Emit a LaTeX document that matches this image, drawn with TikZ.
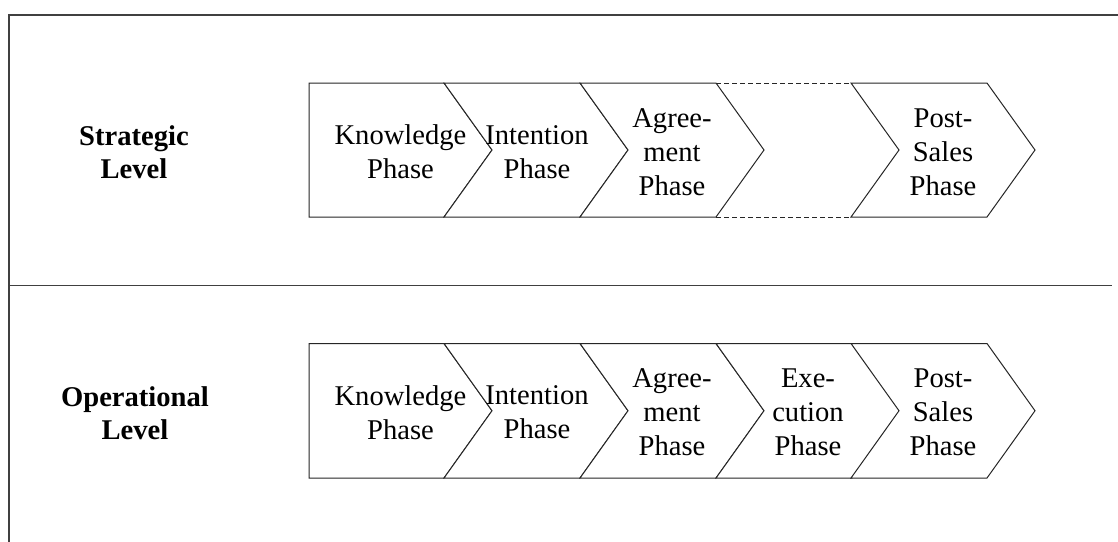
\documentclass[tikz,border=0pt]{standalone}
\usepackage{fontspec}
\setmainfont{Liberation Serif}
\newcommand\mychev[3]{\draw[chev] (#1,#2) -- (#1+136,#2) -- (#1+184,{(#2+#3)/2}) -- (#1+136,#3) -- (#1,#3) -- (#1+48,{(#2+#3)/2}) -- cycle;}
\newcommand\myflat[3]{\draw[chev] (#1,#2) -- (#1+135,#2) -- (#1+183,{(#2+#3)/2}) -- (#1+135,#3) -- (#1,#3) -- cycle;}
\tikzset{
  chev/.style={draw=black!85, line width=1pt, fill=white},
  lbl/.style={font=\fontsize{28.6}{34}\selectfont, align=center, inner sep=0pt},
  lvl/.style={font=\fontsize{28.6}{33}\selectfont\bfseries, align=center, inner sep=0pt},
  frame/.style={draw=black!75, line width=1.3pt},
  dashline/.style={draw=black!85, line width=1pt, dashed, dash pattern=on 5pt off 3pt}
}
\begin{document}
\begin{tikzpicture}[x=1pt,y=-1pt]
\useasboundingbox (0,0) rectangle (1118,541);
% frame
\coordinate (ftl) at (9,15);
\coordinate (ftr) at (1120,15);
\coordinate (fbl) at (9,545);
\draw[frame] (ftr) -- (ftl) -- (fbl);
\coordinate (sepl) at (9,285.7);
\coordinate (sepr) at (1111.7,285.7);
\draw[frame] (sepl) -- (sepr);
% level labels
\node[lvl] (strat) at (134,152) {Strategic\\Level};
\node[lvl] (oper) at (135,413) {Operational\\Level};
% strategic chevrons
\myflat{309}{83}{217}
\mychev{444}{83}{217}
\mychev{580}{83}{217}
\mychev{851}{83}{217}
\coordinate (dta) at (716,83);
\coordinate (dtb) at (851,83);
\coordinate (dba) at (716,217);
\coordinate (dbb) at (851,217);
\draw[dashline] (dta) -- (dtb);
\draw[dashline] (dba) -- (dbb);
\node[lbl] (s1) at (400.5,152) {Knowledge\\Phase};
\node[lbl] (s2) at (537,152) {Intention\\Phase};
\node[lbl] (s3) at (672,152) {Agree-\\ment\\Phase};
\node[lbl] (s5) at (943,152) {Post-\\Sales\\Phase};
% operational chevrons
\myflat{309}{343.5}{478}
\mychev{444}{343.5}{478}
\mychev{580}{343.5}{478}
\mychev{716}{343.5}{478}
\mychev{851}{343.5}{478}
\node[lbl] (o1) at (400.5,412.5) {Knowledge\\Phase};
\node[lbl] (o2) at (537,412.5) {Intention\\Phase};
\node[lbl] (o3) at (672,412.5) {Agree-\\ment\\Phase};
\node[lbl] (o4) at (808,412.5) {Exe-\\cution\\Phase};
\node[lbl] (o5) at (943,412.5) {Post-\\Sales\\Phase};
\end{tikzpicture}
\end{document}
